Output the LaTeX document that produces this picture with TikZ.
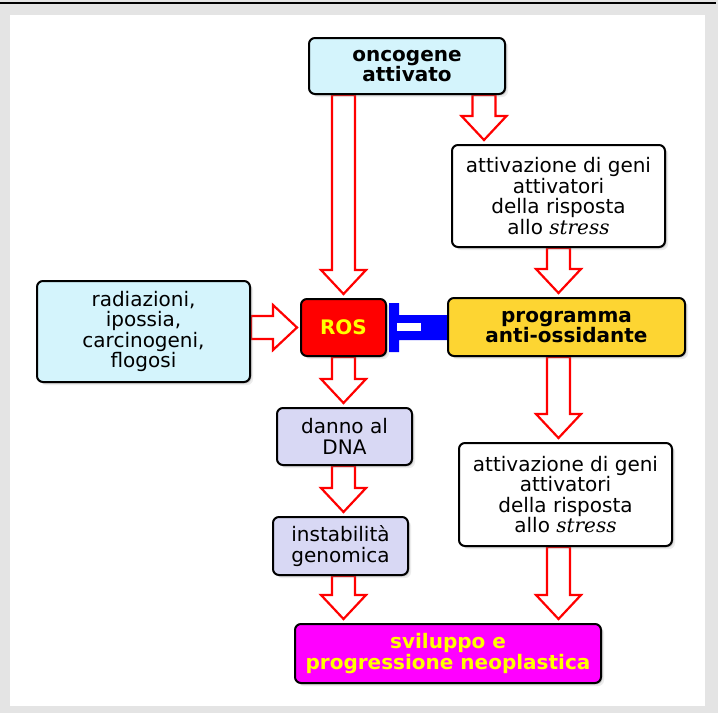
\documentclass[tikz,border=0pt]{standalone}
\usepackage{fontspec}
\setmainfont{DejaVu Sans}
\newfontfamily\stressfont{DejaVu Serif}
\usetikzlibrary{calc,shadows}
\pgfdeclarelayer{back}
\pgfdeclarelayer{arrows}
\pgfsetlayers{back,arrows,main}
\definecolor{framegrey}{RGB}{228,228,228}
\definecolor{boxcyan}{RGB}{212,244,252}
\definecolor{boxlav}{RGB}{216,216,244}
\definecolor{boxgold}{RGB}{253,213,50}
\definecolor{boxmag}{RGB}{255,0,255}
\definecolor{txtyellow}{RGB}{255,255,0}
\definecolor{arrred}{RGB}{255,0,0}
\definecolor{inhblue}{RGB}{0,0,255}
\newcommand\stresstxt{{\stressfont\itshape stress}}

\begin{document}
\begin{tikzpicture}[x=1pt,y=-1pt,
    box/.style={draw=black, line width=2pt, rounded corners=6pt, align=center,
      inner sep=0pt, font=\fontsize{20}{20.5}\selectfont,
      drop shadow={shadow xshift=1.5pt,shadow yshift=-1.5pt,opacity=0.3},
      drop shadow={shadow xshift=3pt,shadow yshift=-3pt,opacity=0.15}},
    boldbox/.style={box, font=\fontsize{20}{20.5}\selectfont\bfseries},
    fat/.style={draw=arrred, fill=white, line width=2.2pt, line join=miter,
      to path={let \p1=(\tikztostart), \p2=(\tikztotarget),
        \p3=($(\p2)!24pt!(\p1)$), \n1={atan2(\y2-\y1,\x2-\x1)} in
        ($(\p1)+({\n1+90}:11.5pt)$) -- ($(\p3)+({\n1+90}:11.5pt)$)
        -- ($(\p3)+({\n1+90}:22.5pt)$) -- (\p2)
        -- ($(\p3)+({\n1-90}:22.5pt)$) -- ($(\p3)+({\n1-90}:11.5pt)$)
        -- ($(\p1)+({\n1-90}:11.5pt)$) -- cycle}}]
  \useasboundingbox (0,0) rectangle (718,713);
  \begin{pgfonlayer}{back}
    \fill[framegrey] (0,0) rectangle (718,713);
    \fill[white] (10,15) rectangle (705,706);
    \draw[line width=2pt] (0,2.5) -- (716,2.5);
  \end{pgfonlayer}

  % boxes
  \node[boldbox, fill=boxcyan, minimum width=196pt, minimum height=56pt] (onc) at (407,66) {oncogene\\attivato};
  \node[box, fill=white, minimum width=213pt, minimum height=102pt] (act1) at (558.5,196)
    {attivazione di geni\\attivatori\\della risposta\\allo \stresstxt};
  \node[box, fill=boxcyan, minimum width=213pt, minimum height=101pt] (rad) at (143.5,331.5)
    {radiazioni,\\ipossia,\\carcinogeni,\\flogosi};
  \node[boldbox, fill=arrred, text=txtyellow, minimum width=85pt, minimum height=57pt] (ros) at (343.5,327.5) {ROS};
  \node[boldbox, fill=boxgold, minimum width=237pt, minimum height=58pt] (prog) at (566.5,327) {programma\\anti-ossidante};
  \node[box, fill=boxlav, minimum width=135pt, minimum height=57pt] (dna) at (344.5,436.5) {danno al\\DNA};
  \node[box, fill=boxlav, minimum width=135pt, minimum height=58pt] (inst) at (340.5,546) {instabilità\\genomica};
  \node[box, fill=white, minimum width=213pt, minimum height=103pt] (act2) at (565.5,494.5)
    {attivazione di geni\\attivatori\\della risposta\\allo \stresstxt};
  \node[boldbox, fill=boxmag, text=txtyellow, minimum width=306pt, minimum height=59pt] (svil) at (448,653.5)
    {sviluppo e\\progressione neoplastica};

  % block arrows and inhibition
  \begin{pgfonlayer}{arrows}
    \draw[fat] (onc.south -| ros.north) to ([yshift=4pt]ros.north);
    \draw[fat] ([xshift=77pt]onc.south) to ([xshift=-74.5pt,yshift=4pt]act1.north);
    \draw[fat] (act1.south) to ([yshift=4pt]prog.north -| act1.south);
    \draw[fat] (rad.east |- ros.west) to ([xshift=-3pt]ros.west);
    \draw[fat] (ros.south) to ([yshift=4pt]dna.north -| ros.south);
    \draw[fat] (dna.south -| ros.south) to ([yshift=4pt]inst.north -| ros.south);
    \draw[fat] (inst.south -| ros.south) to ([yshift=4pt]svil.north -| ros.south);
    \draw[fat] (prog.south -| act1.south) to ([yshift=4pt]act2.north -| act1.south);
    \draw[fat] (act2.south -| act1.south) to ([yshift=4pt]svil.north -| act1.south);
    \fill[inhblue] ($(prog.west)+(0,-12)$) -- ++(-48,0) -- ++(0,-12) -- ++(-10,0)
      -- ++(0,49) -- ++(10,0) -- ++(0,-12) -- ++(48,0) -- cycle;
    \fill[white] ($(prog.west)+(-50,-4)$) rectangle ++(24,8);
  \end{pgfonlayer}
\end{tikzpicture}
\end{document}
